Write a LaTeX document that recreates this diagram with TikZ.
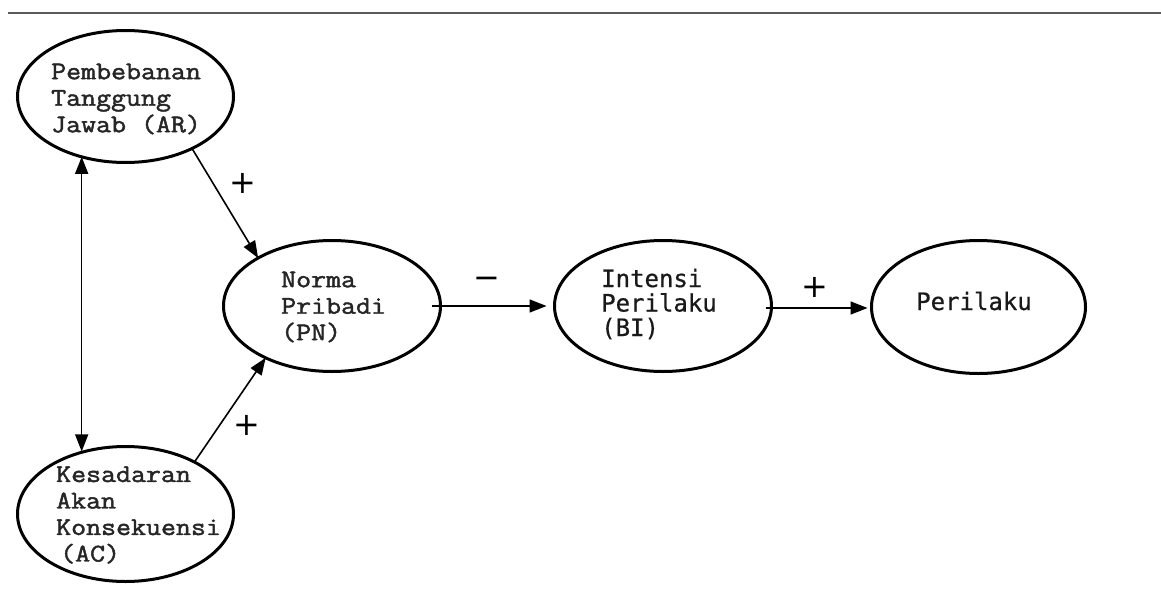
\documentclass[tikz,border=0pt]{standalone}
\usepackage{fontspec}
\newfontfamily\courfont{Latin Modern Mono}[FakeStretch=1.14, FakeBold=1.8]
\newfontfamily\bifont{DejaVu Sans Mono}[FakeBold=0.6]
\newfontfamily\sgnfont{DejaVu Sans}
\usetikzlibrary{arrows.meta,shapes.geometric}
\tikzset{
  ell/.style={draw=black, ellipse, line width=3pt, inner sep=0pt, outer sep=0pt},
  lbl/.style={anchor=west, align=left, inner sep=0pt, text=black!85,
              font=\courfont\fontsize{25.5}{26.5}\selectfont},
  lblb/.style={anchor=west, align=left, inner sep=0pt, text=black!90,
              font=\bifont\fontsize{24}{24.5}\selectfont},
  arr/.style={line width=1.6pt, -{Triangle[length=17pt,width=13pt]}},
  darr/.style={line width=1.6pt, {Triangle[length=17pt,width=13pt]}-{Triangle[length=17pt,width=13pt]}},
  sgn/.style={inner sep=0pt, font=\sgnfont\fontsize{32}{32}\selectfont}
}
\begin{document}
\begin{tikzpicture}[x=1pt,y=-1pt]
\useasboundingbox[fill=white] (0,0) rectangle (1161,589);
\draw[black!65, line width=2pt] (8,13) -- (1161,13);

\node[ell, minimum width=216pt, minimum height=132pt] (AR) at (125.5,96.5) {};
\node[ell, minimum width=217pt, minimum height=131pt] (PN) at (332,306) {};
\node[ell, minimum width=217pt, minimum height=131pt] (BI) at (663,306) {};
\node[ell, minimum width=214pt, minimum height=133pt] (PR) at (978.5,307) {};
\node[ell, minimum width=216pt, minimum height=135pt] (AC) at (125.5,514) {};

\node[lbl] (ARt) at (51,99) {Pembebanan\\Tanggung\\Jawab (AR)};
\node[lbl] (PNt) at (281,307) {Norma\\Pribadi\\(PN)};
\node[lbl] (ACt) at (56,515) {Kesadaran\\Akan\\Konsekuensi\\\hspace{4pt}(AC)};
\node[lblb] (BIt) at (601,304) {Intensi\\Perilaku\\(BI)};
\node[lblb] (PRt) at (916,301) {Perilaku};

\draw[arr] (AR.-38) -- (PN.147);
\draw[arr] (AC.37) -- (PN.218);
\draw[darr] (AR.234) -- (AR.234 |- AC.123);
\draw[arr, shorten <=-9pt, shorten >=8pt] (PN.east) -- (BI.west);
\draw[arr, shorten <=-6pt, shorten >=4pt] ([yshift=-2pt]BI.east) -- ([yshift=-1pt]PR.west);

\node[sgn] (s1) at (243,183) {+};
\node[sgn] (s2) at (247,425) {+};
\node[sgn] (s3) at (487,283) {−};
\node[sgn] (s4) at (815,287) {+};
\end{tikzpicture}
\end{document}
